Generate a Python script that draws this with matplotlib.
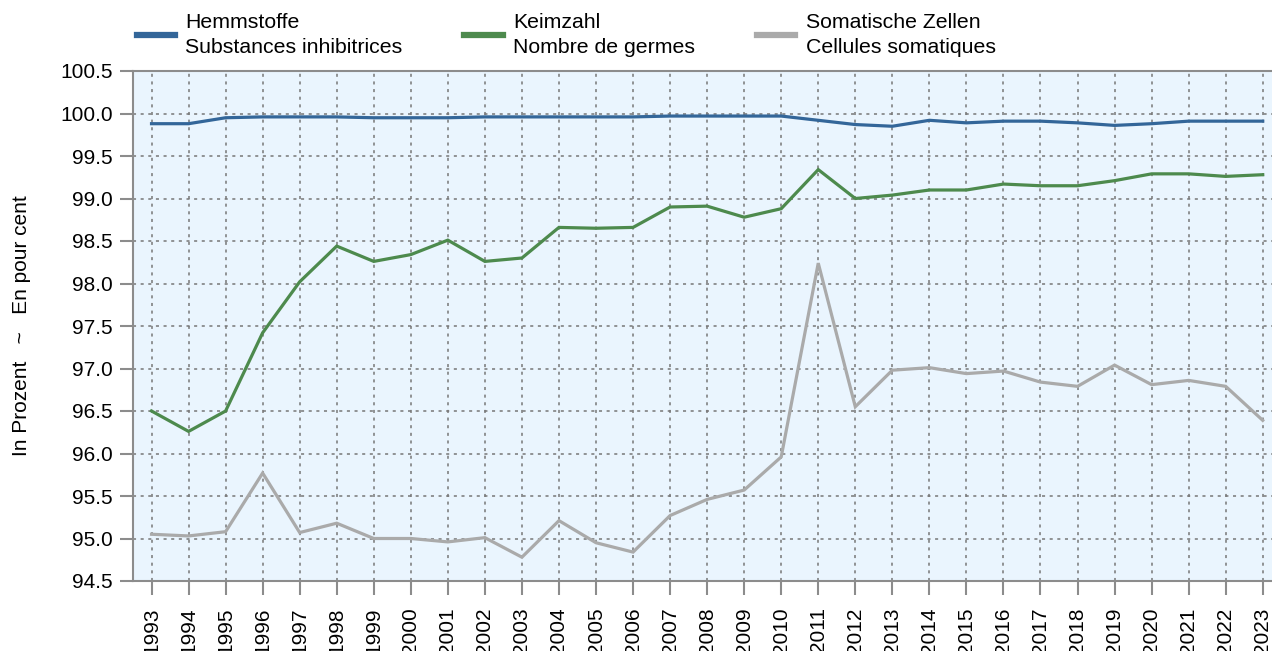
import matplotlib
matplotlib.use("Agg")
import matplotlib.pyplot as plt

plt.rcParams['font.family'] = ['Liberation Sans', 'DejaVu Sans']

years = list(range(1993, 2024))
hemmstoffe = [99.88, 99.88, 99.95, 99.96, 99.96, 99.96, 99.95, 99.95, 99.95, 99.96, 99.96,
              99.96, 99.96, 99.96, 99.97, 99.97, 99.97, 99.97, 99.92, 99.87, 99.85, 99.92,
              99.89, 99.91, 99.91, 99.89, 99.86, 99.88, 99.91, 99.91, 99.91]
keimzahl = [96.50, 96.26, 96.50, 97.42, 98.02, 98.44, 98.26, 98.34, 98.51, 98.26, 98.30,
            98.66, 98.65, 98.66, 98.90, 98.91, 98.78, 98.88, 99.34, 99.00, 99.04, 99.10,
            99.10, 99.17, 99.15, 99.15, 99.21, 99.29, 99.29, 99.26, 99.28]
somatische = [95.05, 95.03, 95.08, 95.77, 95.07, 95.18, 95.00, 95.00, 94.96, 95.01, 94.78,
              95.21, 94.95, 94.84, 95.27, 95.46, 95.57, 95.96, 98.24, 96.55, 96.98, 97.01,
              96.94, 96.97, 96.84, 96.79, 97.04, 96.81, 96.86, 96.79, 96.39]

labels = ["Hemmstoffe\nSubstances inhibitrices",
          "Keimzahl\nNombre de germes",
          "Somatische Zellen\nCellules somatiques"]
colors = ["#336699", "#4d8a4d", "#aaaaaa"]
yticks = [94.5, 95.0, 95.5, 96.0, 96.5, 97.0, 97.5, 98.0, 98.5, 99.0, 99.5, 100.0, 100.5]

W, H = 1272, 651
fig = plt.figure(figsize=(W / 100, H / 100), dpi=100)
ax = fig.add_axes([133 / W, (H - 581) / H, (W - 133) / W, 510 / H])
ax.set_facecolor("#eaf5fe")

for series, lab, col in zip([hemmstoffe, keimzahl, somatische], labels, colors):
    ax.plot(years, series, color=col, lw=2.3, label=lab, solid_joinstyle='miter')

ax.set_xlim(1992.5, 2023.25)
ax.set_ylim(94.5, 100.5)
ax.set_yticks(yticks)
ax.set_yticklabels([f"{v:.1f}" for v in yticks])
ax.set_xticks(years)
ax.set_xticklabels([str(y) for y in years], rotation=90, va='top', ha='center')

ax.grid(True, color="#777777", linestyle=(0, (2, 3)), lw=1.1)
ax.set_axisbelow(True)
for s in ['left', 'bottom', 'top']:
    ax.spines[s].set_color("#8c8c8c")
    ax.spines[s].set_linewidth(1.5)
ax.spines['right'].set_visible(False)
ax.tick_params(axis='y', length=9.5, width=1.5, color="#8c8c8c", labelsize=15, pad=5)
ax.tick_params(axis='x', length=10, width=1.5, color="#8c8c8c", labelsize=15, pad=9)

fig.text(22 / W, (H - 326) / H, "In Prozent   ~   En pour cent", rotation=90,
         ha='center', va='center', fontsize=15)

leg = fig.legend(loc='upper left', bbox_to_anchor=(128 / W, 1 - 5 / H), ncol=3,
                 frameon=False, fontsize=15.3, handlelength=1.8, handletextpad=0.5,
                 columnspacing=2.9, borderaxespad=0, labelspacing=0.2)
for line in leg.get_lines():
    line.set_linewidth(4.5)
for t in leg.get_texts():
    t.set_linespacing(1.35)

fig.savefig("out.png", dpi=100)
